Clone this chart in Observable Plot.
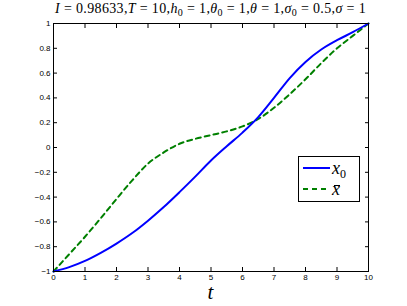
<!DOCTYPE html>
<html><head><meta charset="utf-8">
<script src="https://cdn.jsdelivr.net/npm/d3@7"></script>
<script src="https://cdn.jsdelivr.net/npm/@observablehq/plot@0.6"></script>
<style>
body{margin:0;background:#fff}
#wrap{position:relative;width:407px;height:306px;overflow:hidden;background:#fff}
#title{position:absolute;left:0;width:421px;top:0px;text-align:center;font-family:"Liberation Serif",serif;font-size:14px;line-height:17px;letter-spacing:0.35px;white-space:nowrap}
#title i{font-style:italic}
#title sub{font-size:10px;vertical-align:-3px;line-height:0}
#xlab{position:absolute;left:0;width:421px;top:286px;line-height:12px;height:14px;text-align:center;font-family:"Liberation Serif",serif;font-style:italic;font-size:21px}
#legend{position:absolute;left:298px;top:156px;width:60px;height:44px;border:1px solid #000;background:#fff;font-family:"Liberation Serif",serif;font-style:italic;font-size:18px;line-height:18px}
#legend .row{position:absolute;left:4px;height:20px;display:flex;align-items:center}
#legend sub{font-style:normal;font-size:12px;vertical-align:-4px;line-height:0}
.bar{position:relative;display:inline-block}
.bar::after{content:"";position:absolute;left:2px;right:0px;top:5px;border-top:1px solid #000}
</style></head>
<body><div id="wrap"></div>
<script>
const t    = [0, 0.5, 1, 1.5, 2, 2.5, 3, 3.5, 4, 4.5, 5, 5.5, 6, 6.5, 7, 7.5, 8, 8.5, 9, 9.5, 10];
const x0   = [-1, -0.965, -0.915, -0.85, -0.775, -0.69, -0.59, -0.48, -0.36, -0.235, -0.105, 0.01, 0.12, 0.245, 0.40, 0.56, 0.69, 0.79, 0.865, 0.93, 1];
const xbar = [-1, -0.86, -0.72, -0.57, -0.415, -0.265, -0.13, -0.04, 0.03, 0.07, 0.10, 0.13, 0.17, 0.23, 0.32, 0.43, 0.55, 0.68, 0.80, 0.90, 1];
const xTicks = [0, 1, 2, 3, 4, 5, 6, 7, 8, 9, 10];
const yTicks = [-1, -0.8, -0.6, -0.4, -0.2, 0, 0.2, 0.4, 0.6, 0.8, 1];
const seriesColors = ["#0000ff", "#008000"];

const rows0 = t.map((v, i) => ({t: v, y: x0[i]}));
const rows1 = t.map((v, i) => ({t: v, y: xbar[i]}));
const fmt = d => String(d).replace("-", "\u2212");

const chart = Plot.plot({
  width: 407, height: 306,
  marginLeft: 53, marginRight: 39, marginTop: 23, marginBottom: 35,
  style: {fontFamily: "'Liberation Sans', Arial, sans-serif", fontSize: "8px", background: "#fff", color: "#000"},
  x: {domain: [0, 10]},
  y: {domain: [-1, 1]},
  marks: [
    Plot.line(rows1, {x: "t", y: "y", stroke: seriesColors[1], strokeWidth: 2, strokeDasharray: "5,4", curve: "monotone-x"}),
    Plot.line(rows0, {x: "t", y: "y", stroke: seriesColors[0], strokeWidth: 2, curve: "monotone-x"}),
    Plot.frame({stroke: "#000", strokeWidth: 1}),
    Plot.axisX(xTicks, {anchor: "bottom", tickSize: -4, tickPadding: 7, label: null, tickFormat: fmt}),
    Plot.axisX(xTicks, {anchor: "top", tickSize: -4, tickPadding: 0, label: null, tickFormat: () => ""}),
    Plot.axisY(yTicks, {anchor: "left", tickSize: -4, tickPadding: 7, label: null, tickFormat: fmt}),
    Plot.axisY(yTicks, {anchor: "right", tickSize: -4, tickPadding: 0, label: null, tickFormat: () => ""})
  ]
});
const wrap = document.getElementById("wrap");
wrap.appendChild(chart);
chart.style.position = "absolute"; chart.style.left = "0"; chart.style.top = "0";

const title = document.createElement("div");
title.id = "title";
title.innerHTML = '<i>I</i> = 0.98633,<i>T</i> = 10,<i>h</i><sub>0</sub> = 1,<i>θ</i><sub>0</sub> = 1,<i>θ</i> = 1,<i>σ</i><sub>0</sub> = 0.5,<i>σ</i> = 1';
wrap.appendChild(title);

const xlab = document.createElement("div");
xlab.id = "xlab"; xlab.textContent = "t";
wrap.appendChild(xlab);

const legend = document.createElement("div");
legend.id = "legend";
legend.innerHTML =
  `<div class="row" style="top:1px"><svg width="29" height="6"><line x1="0" x2="27" y1="3" y2="3" stroke="${seriesColors[0]}" stroke-width="2"/></svg><span>x<sub>0</sub></span></div>` +
  `<div class="row" style="top:22px"><svg width="29" height="6"><line x1="0" x2="27" y1="3" y2="3" stroke="${seriesColors[1]}" stroke-width="2" stroke-dasharray="5,4"/></svg><span class="bar">x</span></div>`;
wrap.appendChild(legend);
</script></body></html>
